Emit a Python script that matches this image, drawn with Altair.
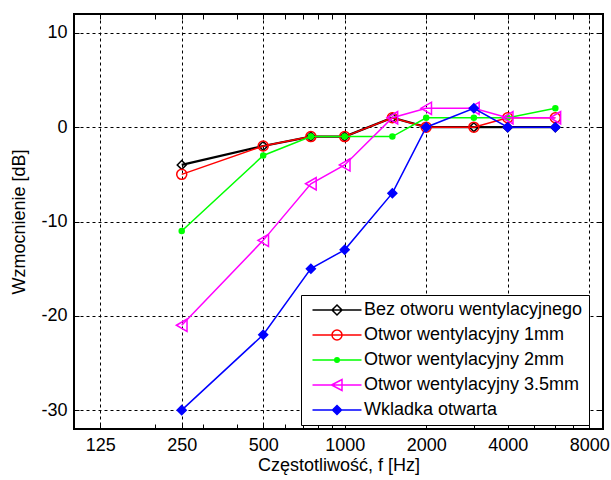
import altair as alt
import pandas as pd

freqs = [250, 500, 750, 1000, 1500, 2000, 3000, 4000, 6000]
series_names = [
    "Bez otworu wentylacyjnego",
    "Otwor wentylacyjny 1mm",
    "Otwor wentylacyjny 2mm",
    "Otwor wentylacyjny 3.5mm",
    "Wkladka otwarta",
]
bez_otworu = [-4, -2, -1, -1, 1, 0, 0, 0, 0]
otwor_1mm = [-5, -2, -1, -1, 1, 0, 0, 1, 1]
otwor_2mm = [-11, -3, -1, -1, -1, 1, 1, 1, 2]
otwor_35mm = [-21, -12, -6, -4, 1, 2, 2, 1, 1]
wkladka = [-30, -22, -15, -13, -7, 0, 2, 0, 0]

x_major = [125, 250, 500, 1000, 2000, 4000, 8000]
x_minor = [100, 200, 300, 400, 600, 700, 800, 900,
           3000, 5000, 6000, 7000, 9000]
y_ticks = [-30, -20, -10, 0, 10]

colors = ["#000000", "#ff0000", "#00ff00", "#ff00ff", "#0000ff"]
fills = ["transparent", "transparent", "#00ff00", "transparent", "#0000ff"]
shapes = ["diamond", "circle", "circle", "triangle-left", "diamond"]
sizes = [80, 100, 25, 150, 80]
widths = [2.2, 1.5, 1.5, 1.5, 1.5]
legend_paths = [
    "M-4.9,0H4.9M0,-1L1,0L0,1L-1,0Z",
    "M-4.9,0H4.9M1,0A1,1 0 1,1 -1,0A1,1 0 1,1 1,0Z",
    "M-4.9,0H4.9M0.45,0A0.45,0.45 0 1,1 -0.45,0A0.45,0.45 0 1,1 0.45,0Z",
    "M-4.9,0H4.9M-1.1,0L1,-1.1L1,1.1Z",
    "M-4.9,0H4.9M0,-0.9L0.9,0L0,0.9L-0.9,0Z",
]

values = [bez_otworu, otwor_1mm, otwor_2mm, otwor_35mm, wkladka]
rows = []
for name, vals in zip(series_names, values):
    for f, v in zip(freqs, vals):
        rows.append({"series": name, "f": f, "db": v})
df = pd.DataFrame(rows)

all_x = sorted(set(x_major + x_minor))
major_test = "indexof([" + ",".join(str(v) for v in x_major) + "], datum.value) >= 0"

x_scale = alt.Scale(type="log", domain=[100, 9000], nice=False)
y_scale = alt.Scale(domain=[-32, 12], nice=False, zero=False)

x_main = alt.X(
    "f:Q", scale=x_scale, title="Częstotliwość, f [Hz]",
    axis=alt.Axis(
        orient="bottom", values=all_x, domain=False,
        labelExpr=f"{major_test} ? '' + datum.value : ''",
        grid=True,
        gridOpacity={"condition": {"test": major_test, "value": 1}, "value": 0},
        tickSize=alt.ExprRef("-5"), tickColor="black",
        labelPadding=12, titlePadding=2,
    ),
)
y_main = alt.Y(
    "db:Q", scale=y_scale, title="Wzmocnienie [dB]",
    axis=alt.Axis(
        orient="left", values=y_ticks, domain=False, grid=True,
        labelExpr="'' + datum.value",
        tickSize=alt.ExprRef("-5"), tickColor="black",
        labelPadding=12, titlePadding=12,
    ),
)
x_top = alt.X(
    "f:Q", scale=x_scale,
    axis=alt.Axis(orient="top", values=all_x, domain=False, labels=False,
                  grid=False, tickSize=alt.ExprRef("-5"), tickColor="black", title=None),
)
y_right = alt.Y(
    "db:Q", scale=y_scale,
    axis=alt.Axis(orient="right", values=y_ticks, domain=False, labels=False,
                  grid=False, tickSize=alt.ExprRef("-5"), tickColor="black", title=None),
)
x_none = alt.X("f:Q", scale=x_scale, axis=None)
y_none = alt.Y("db:Q", scale=y_scale, axis=None)

base = alt.Chart(df)
layers = []
for i, name in enumerate(series_names):
    sel = base.transform_filter(alt.datum.series == name)
    if i == 0:
        lx, ly = x_main, y_main
        px, py = x_top, y_right
    else:
        lx, ly = x_none, y_none
        px, py = x_none, y_none
    line = sel.mark_line(color=colors[i], strokeWidth=widths[i]).encode(
        x=lx, y=ly, order=alt.Order("f:Q")
    )
    pts = sel.mark_point(
        shape=shapes[i], size=sizes[i], stroke=colors[i], fill=fills[i],
        filled=True, opacity=1, strokeWidth=1.5,
    ).encode(x=px, y=py)
    layers += [line, pts]

legend_props = dict(
    title=None, orient="none", legendX=227, legendY=281,
    symbolOpacity=1, symbolSize=100, symbolStrokeWidth=1.5,
    symbolOffset=21, labelOffset=18,
    labelFont="Liberation Sans", labelFontSize=18, labelColor="black",
    rowPadding=7, padding=6, strokeColor="black", fillColor="white",
    labelLimit=400,
)
legend_layer = base.mark_point(filled=True, opacity=0).encode(
    x=x_none,
    y=y_none,
    stroke=alt.Stroke("series:N", scale=alt.Scale(domain=series_names, range=colors),
                      legend=alt.Legend(**legend_props)),
    fill=alt.Fill("series:N", scale=alt.Scale(domain=series_names, range=fills),
                  legend=alt.Legend(**legend_props)),
    shape=alt.Shape("series:N", scale=alt.Scale(domain=series_names, range=legend_paths),
                    legend=alt.Legend(**legend_props)),
)
layers.append(legend_layer)

chart = (
    alt.layer(*layers)
    .resolve_axis(x="independent", y="independent")
    .properties(
        width=529, height=415,
        padding={"left": 74, "top": 14, "right": 8, "bottom": 51},
        autosize=alt.AutoSizeParams(type="none"),
        background="white",
    )
    .configure_view(stroke="black", strokeWidth=2)
    .configure_axis(
        labelFont="Liberation Sans", labelFontSize=18, labelColor="black",
        titleFont="Liberation Sans", titleFontSize=18, titleFontWeight="normal",
        titleColor="black",
        gridColor="black", gridDash=[3, 3], gridWidth=1,
    )
    .configure_legend(
        labelFont="Liberation Sans", labelFontSize=18,
    )
)

chart.save("out.html", embed_options={"renderer": "svg", "actions": False})
